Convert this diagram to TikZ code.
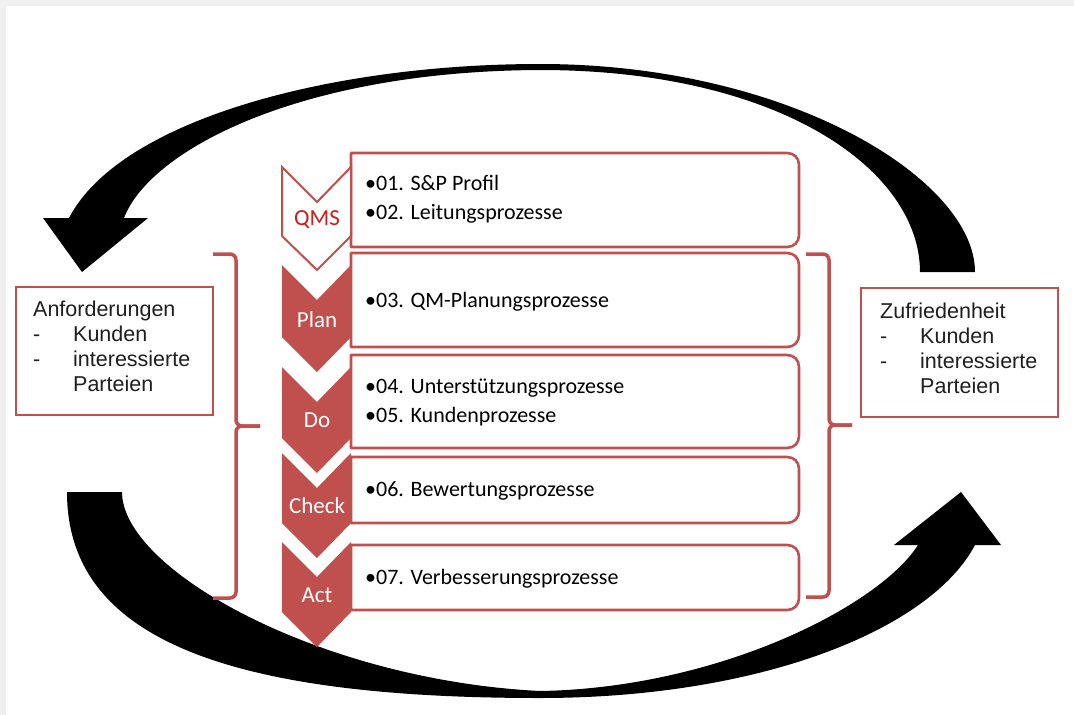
\documentclass[tikz,border=0pt]{standalone}
\usepackage{fontspec}
\setmainfont{Carlito}
\newfontfamily\arialfont{Liberation Sans}
\definecolor{accent}{HTML}{C0504D}
\definecolor{qmsred}{HTML}{C81E1E}
\definecolor{frame}{HTML}{F0F0F0}

% outline of a list box: square on the left, rounded on the right
\newcommand{\listframe}[1]{%
  \draw[listbox] (#1.north west) -- ([xshift=-12pt]#1.north east)
    .. controls ([xshift=-5pt]#1.north east) and ([yshift=-5pt]#1.north east) .. ([yshift=-12pt]#1.north east)
    -- ([yshift=12pt]#1.south east)
    .. controls ([yshift=5pt]#1.south east) and ([xshift=-5pt]#1.south east) .. ([xshift=-12pt]#1.south east)
    -- (#1.south west) -- cycle;}

\begin{document}
\begin{tikzpicture}[x=1pt,y=-1pt,
  boxarea/.style={draw=none, inner sep=0pt, outer sep=0pt, minimum width=448pt},
  listbox/.style={draw=accent, line width=2.6pt, fill=white, line join=round},
  chevfill/.style={fill=accent, draw=none},
  chevopen/.style={fill=white, draw=accent, line width=2pt, line join=miter},
  itemtext/.style={anchor=base west, inner sep=0pt, font=\fontsize{22}{26}\selectfont, text=black},
  chevlabel/.style={anchor=base, inner sep=0pt, font=\fontsize{23}{27}\selectfont, text=white},
  sidebox/.style={draw=accent, line width=2.6pt, fill=white, rectangle, inner sep=0pt, outer sep=0pt, anchor=north west},
  sidetext/.style={anchor=base west, inner sep=0pt, font=\arialfont\fontsize{21.5}{25}\selectfont, text=black!88},
  bracket/.style={draw=accent, line width=3.5pt, rounded corners=6pt},
  loop/.style={fill=black, draw=none}
]
% page background
\fill[frame] (0,0) rectangle (1074,715);
\fill[white] (6,6) rectangle (1074,715);
\useasboundingbox (0,0) rectangle (1074,715);

% upper return arrow (right to left)
\fill[loop] (975,272) .. controls (975,180) and (790,64) .. (540,64)
  .. controls (330,64) and (120,120) .. (69,218)
  -- (43,218) -- (82,272) -- (148,218) -- (124,218)
  .. controls (150,150) and (300,71) .. (540,70)
  .. controls (780,70) and (920,170) .. (920,272) -- cycle;

% lower forward arrow (left to right)
\fill[loop] (67,492) .. controls (67,640) and (230,698) .. (540,698)
  .. controls (760,698) and (930,630) .. (975,545)
  -- (1001,545) -- (961,492) -- (894,545) -- (918,545)
  .. controls (880,605) and (720,688) .. (540,691)
  .. controls (320,680) and (122,570) .. (122,492) -- cycle;

% list boxes
\node[boxarea, minimum height=94pt] (b1) at (575,200) {};
\node[boxarea, minimum height=94pt] (b2) at (575,300) {};
\node[boxarea, minimum height=93pt] (b3) at (575,401.5) {};
\node[boxarea, minimum height=66pt] (b4) at (575,490) {};
\node[boxarea, minimum height=65pt] (b5) at (575,577.5) {};
\listframe{b1}
\listframe{b2}
\listframe{b3}
\listframe{b4}
\listframe{b5}

% chevrons
\draw[chevopen] (282,167) -- (317,202) -- (351,167) -- (351,236) -- (317,270) -- (282,236) -- cycle;
\fill[chevfill] (282,265) -- (317,300) -- (351,265) -- (351,337) -- (317,372) -- (282,337) -- cycle;
\fill[chevfill] (282,367) -- (317,402) -- (351,367) -- (351,438) -- (317,473) -- (282,438) -- cycle;
\fill[chevfill] (282,453) -- (317,488) -- (351,453) -- (351,523) -- (317,558) -- (282,523) -- cycle;
\fill[chevfill] (282,542) -- (317,577) -- (351,542) -- (351,612) -- (317,647) -- (282,612) -- cycle;

\node[chevlabel, text=qmsred] (lqms) at (317,225.5) {QMS};
\node[chevlabel] (lplan) at (317,327.5) {Plan};
\node[chevlabel] (ldo) at (317,427.5) {Do};
\node[chevlabel] (lcheck) at (317,513.5) {Check};
\node[chevlabel] (lact) at (317,602.5) {Act};

% list entries
\node[itemtext] (t01) at (365,190) {•01. S\&P Profil};
\node[itemtext] (t02) at (365,219.5) {•02. Leitungsprozesse};
\node[itemtext] (t03) at (365,307.5) {•03. QM-Planungsprozesse};
\node[itemtext] (t04) at (365,393.5) {•04. Unterstützungsprozesse};
\node[itemtext] (t05) at (365,422) {•05. Kundenprozesse};
\node[itemtext] (t06) at (365,496.5) {•06. Bewertungsprozesse};
\node[itemtext] (t07) at (365,584) {•07. Verbesserungsprozesse};

% brackets
\draw[bracket] (213,254) -- (236,254) -- (236,426) -- (260,426);
\draw[bracket] (260,426) -- (236,426) -- (236,598) -- (213,598);
\draw[bracket] (806,254) -- (829,254) -- (829,425) -- (852,425);
\draw[bracket] (852,425) -- (829,425) -- (829,597) -- (806,597);

% requirements
\node[sidebox, minimum width=197pt, minimum height=128pt] (req) at (16,287) {};
\node[sidetext] (reqhead) at (33,316) {Anforderungen};
\node[sidetext] (reqd1) at (33,341) {-};
\node[sidetext] (reqa) at (73,341) {Kunden};
\node[sidetext] (reqd2) at (33,366) {-};
\node[sidetext] (reqb) at (73,366) {interessierte};
\node[sidetext] (reqc) at (73,391) {Parteien};

% satisfaction
\node[sidebox, minimum width=197pt, minimum height=129pt] (sat) at (861,288) {};
\node[sidetext] (sathead) at (880,318) {Zufriedenheit};
\node[sidetext] (satd1) at (880,343) {-};
\node[sidetext] (sata) at (920,343) {Kunden};
\node[sidetext] (satd2) at (880,368) {-};
\node[sidetext] (satb) at (920,368) {interessierte};
\node[sidetext] (satc) at (920,393) {Parteien};
\end{tikzpicture}
\end{document}
